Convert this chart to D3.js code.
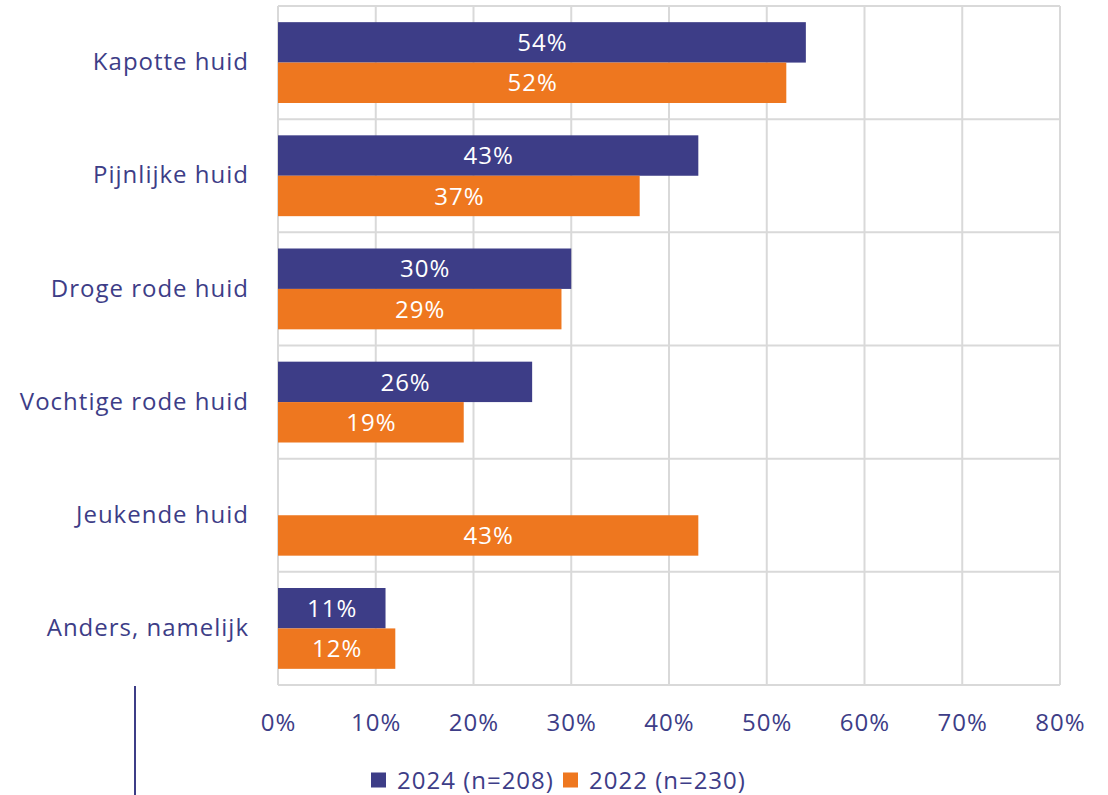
<!DOCTYPE html>
<html>
<head>
<meta charset="utf-8">
<script src="https://cdn.jsdelivr.net/npm/d3@7"></script>
<style>
  html, body { margin: 0; padding: 0; background: #fff; }
  svg { display: block; }
  text { font-family: "Open Sans", Lato, sans-serif; letter-spacing: 1px; }
</style>
</head>
<body>
<svg id="chart" width="1108" height="795"></svg>
<script>
// Huidklachten per jaar (aandeel respondenten)
const categories = ["Kapotte huid", "Pijnlijke huid", "Droge rode huid", "Vochtige rode huid", "Jeukende huid", "Anders, namelijk"];
const values2024 = [54, 43, 30, 26, null, 11];
const values2022 = [52, 37, 29, 19, 43, 12];
const seriesNames = ["2024 (n=208)", "2022 (n=230)"];
const xTicks = [0, 10, 20, 30, 40, 50, 60, 70, 80];

const colors = ["#3d3d87", "#ee771f"];
const textColor = "#3d3d87";
const gridColor = "#d9d9d9";
const fontSize = 24;

const svg = d3.select("#chart");
const plot = { left: 278, right: 1060, top: 6, bottom: 685 };

const x = d3.scaleLinear().domain([0, 80]).range([plot.left, plot.right]);
const y = d3.scaleBand().domain(categories).range([plot.top, plot.bottom]).paddingInner(0).paddingOuter(0);
const sub = d3.scaleBand().domain([0, 1]).range([0, y.bandwidth()]).paddingInner(0).paddingOuter(0.4);

// gridlines
svg.append("g")
  .selectAll("line")
  .data(xTicks)
  .join("line")
  .attr("x1", d => x(d)).attr("x2", d => x(d))
  .attr("y1", plot.top).attr("y2", plot.bottom)
  .attr("stroke", gridColor).attr("stroke-width", 2);

const rowEdges = categories.map(c => y(c)).concat([plot.bottom]);
svg.append("g")
  .selectAll("line")
  .data(rowEdges)
  .join("line")
  .attr("x1", plot.left).attr("x2", plot.right)
  .attr("y1", d => d).attr("y2", d => d)
  .attr("stroke", gridColor).attr("stroke-width", 2);

// bars
const series = [values2024, values2022];
series.forEach((vals, si) => {
  const rows = categories.map((c, i) => ({ c, v: vals[i] })).filter(d => d.v !== null);
  const g = svg.append("g");
  g.selectAll("rect")
    .data(rows)
    .join("rect")
    .attr("x", x(0))
    .attr("y", d => y(d.c) + sub(si))
    .attr("width", d => x(d.v) - x(0))
    .attr("height", sub.bandwidth())
    .attr("fill", colors[si]);
  g.selectAll("text")
    .data(rows)
    .join("text")
    .attr("x", d => (x(0) + x(d.v)) / 2 + 0.5)
    .attr("y", d => y(d.c) + sub(si) + sub.bandwidth() / 2)
    .attr("dy", "0.36em")
    .attr("text-anchor", "middle")
    .attr("fill", "#ffffff")
    .attr("font-size", fontSize)
    .text(d => d.v + "%");
});

// category labels
const yAxis = d3.axisLeft(y).tickSize(0).tickPadding(29);
const ya = svg.append("g").attr("transform", `translate(${plot.left},0)`).call(yAxis);
ya.select(".domain").remove();
ya.selectAll("text")
  .attr("fill", textColor)
  .attr("font-size", fontSize)
  .attr("font-family", "'Open Sans', Lato, sans-serif");

// value axis labels
const xAxis = d3.axisBottom(x).tickValues(xTicks).tickSize(0).tickPadding(29).tickFormat(d => d + "%");
const xa = svg.append("g").attr("transform", `translate(0,${plot.bottom})`).call(xAxis);
xa.select(".domain").remove();
xa.selectAll("text")
  .attr("fill", textColor)
  .attr("font-size", fontSize)
  .attr("font-family", "'Open Sans', Lato, sans-serif");

// separator line at bottom-left
svg.append("line")
  .attr("x1", 135).attr("x2", 135)
  .attr("y1", 686).attr("y2", 795)
  .attr("stroke", textColor).attr("stroke-width", 2);

// legend
const legend = svg.append("g").attr("transform", "translate(371,780)");
const legendX = [0, 192];
seriesNames.forEach((name, i) => {
  const lg = legend.append("g").attr("transform", `translate(${legendX[i]},0)`);
  lg.append("rect").attr("x", 0).attr("y", -7.5).attr("width", 15).attr("height", 15).attr("fill", colors[i]);
  lg.append("text")
    .attr("x", 26).attr("y", 0).attr("dy", "0.36em")
    .attr("fill", textColor).attr("font-size", fontSize)
    .text(name);
});
</script>
</body>
</html>
